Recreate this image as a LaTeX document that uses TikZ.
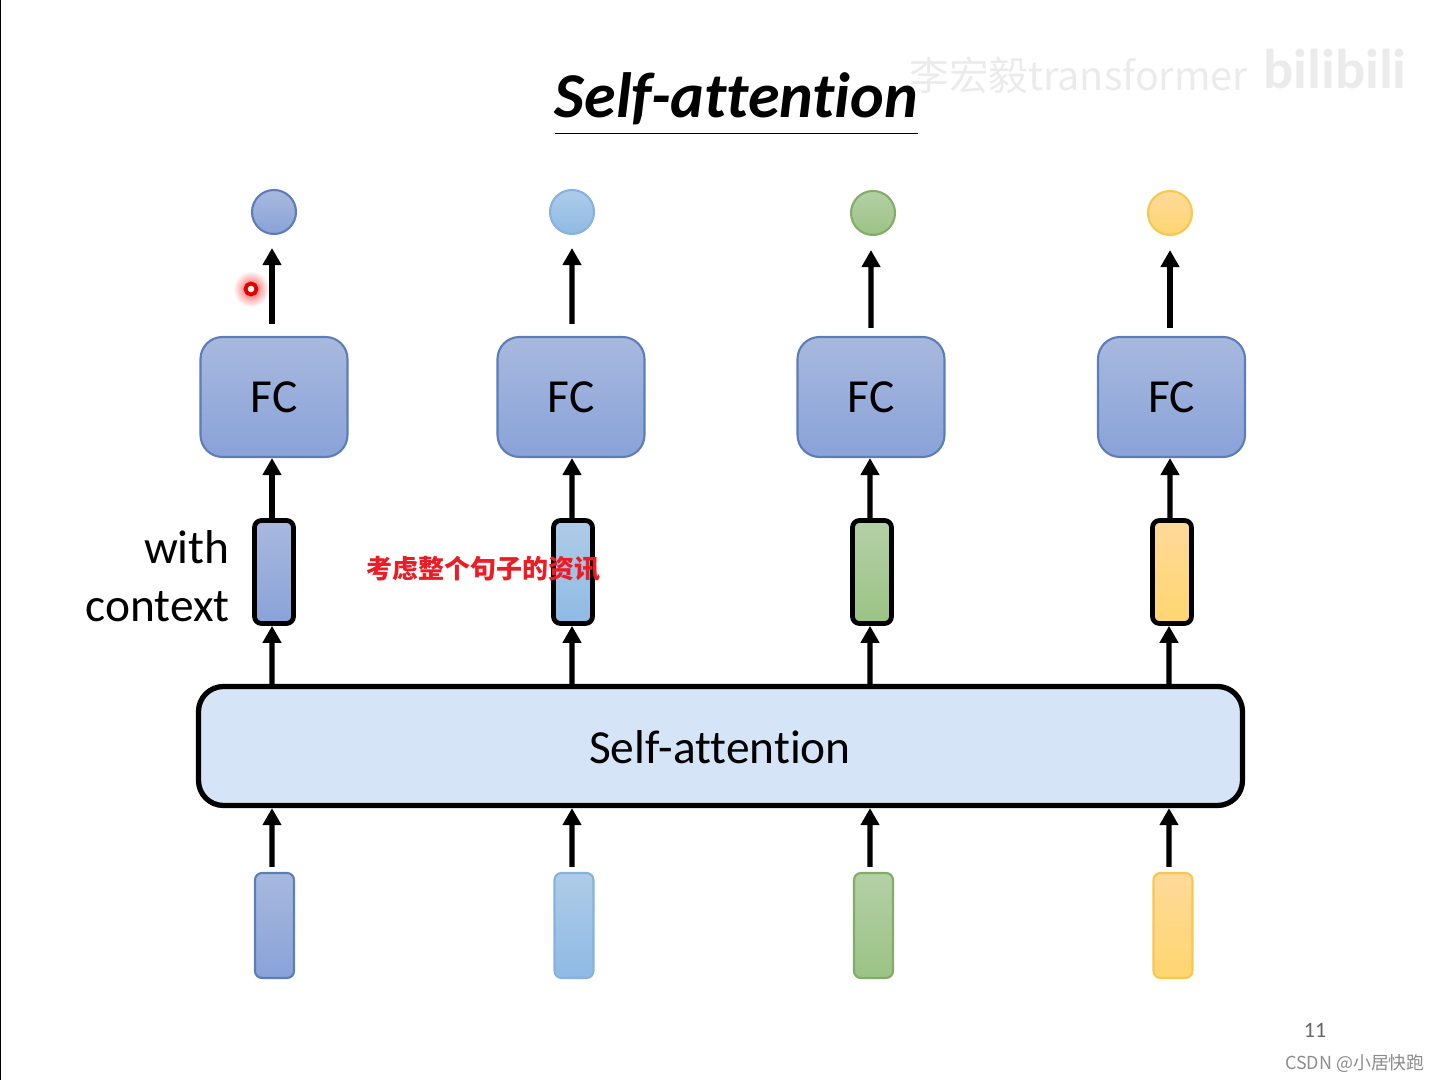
\documentclass[tikz,border=0pt]{standalone}
\usepackage{fontspec}
\setmainfont[Ligatures=NoCommon]{Carlito}
\newfontfamily\cjkfont{Noto Sans CJK SC}
\usetikzlibrary{arrows.meta}
\definecolor{indigotop}{RGB}{168,185,222}
\definecolor{indigobot}{RGB}{137,162,216}
\definecolor{indigoedge}{RGB}{92,125,184}
\definecolor{skytop}{RGB}{174,204,232}
\definecolor{skybot}{RGB}{143,186,228}
\definecolor{skyedge}{RGB}{135,178,222}
\definecolor{greentop}{RGB}{180,208,166}
\definecolor{greenbot}{RGB}{155,195,133}
\definecolor{greenedge}{RGB}{130,172,104}
\definecolor{yellowtop}{RGB}{255,217,154}
\definecolor{yellowbot}{RGB}{255,214,112}
\definecolor{yellowedge}{RGB}{246,200,80}
\definecolor{attfill}{RGB}{213,229,247}
\definecolor{notered}{RGB}{237,28,36}
\tikzset{
  indigo/.style={top color=indigotop,bottom color=indigobot},
  sky/.style={top color=skytop,bottom color=skybot},
  leaf/.style={top color=greentop,bottom color=greenbot},
  amber/.style={top color=yellowtop,bottom color=yellowbot},
  outball/.style={circle,inner sep=0pt,line width=1.2pt,minimum size=0.88cm},
  fcbox/.style={draw=indigoedge,indigo,rounded corners=0.44cm,inner sep=0pt,line width=1.2pt,
    minimum width=2.94cm,minimum height=2.40cm,font=\fontsize{27}{32}\selectfont},
  ctxbar/.style={draw=black,rounded corners=0.14cm,inner sep=0pt,line width=2.7pt,
    minimum width=0.78cm,minimum height=2.06cm},
  inbar/.style={rounded corners=0.14cm,inner sep=0pt,line width=1.2pt,
    minimum width=0.78cm,minimum height=2.10cm},
  upline/.style={line width=3pt,-{Triangle[length=0.34cm,width=0.36cm]}}
}
\begin{document}
\begin{tikzpicture}[line join=round]
  \useasboundingbox (0,0) rectangle (28.78,21.60);
  \draw[line width=0.8pt] (0.01,0) -- (0.01,21.60);

  \node[text=black!8,font=\cjkfont\fontsize{22.5}{27}\selectfont] (mark) at (21.58,20.10) {李宏毅transformer};
  \node[text=black!8,font=\fontsize{32}{36}\selectfont\bfseries] (bili) at (26.70,20.22) {bilibili};

  \node[font=\fontsize{36.4}{44}\selectfont\bfseries\itshape] (title) at (14.73,19.62) {Self-attention};
  \draw[line width=0.8pt] (11.10,18.93) -- (18.36,18.93);

  \node[outball,draw=indigoedge,indigo] (out1) at (5.48,17.36) {};
  \node[outball,draw=skyedge,sky] (out2) at (11.44,17.36) {};
  \node[outball,draw=greenedge,leaf] (out3) at (17.46,17.34) {};
  \node[outball,draw=yellowedge,amber] (out4) at (23.40,17.34) {};

  \node[fcbox] (fc1) at (5.48,13.66) {FC};
  \node[fcbox] (fc2) at (11.42,13.66) {FC};
  \node[fcbox] (fc3) at (17.42,13.66) {FC};
  \node[fcbox] (fc4) at (23.43,13.66) {FC};

  \node[ctxbar,indigo] (ctx1) at (5.48,10.16) {};
  \node[ctxbar,sky] (ctx2) at (11.46,10.16) {};
  \node[ctxbar,leaf] (ctx3) at (17.44,10.16) {};
  \node[ctxbar,amber] (ctx4) at (23.44,10.16) {};

  \node[draw=black,fill=attfill,rounded corners=0.50cm,inner sep=0pt,line width=3pt,
    minimum width=20.88cm,minimum height=2.38cm] (att) at (14.41,6.68) {};
  \node[font=\fontsize{27}{32}\selectfont] (attlabel) at (14.40,6.66) {Self-attention};

  \node[inbar,draw=indigoedge,indigo] (in1) at (5.49,3.09) {};
  \node[inbar,draw=skyedge,sky] (in2) at (11.48,3.09) {};
  \node[inbar,draw=greenedge,leaf] (in3) at (17.47,3.09) {};
  \node[inbar,draw=yellowedge,amber] (in4) at (23.46,3.09) {};

  \draw[upline,shorten <=0.24cm,shorten >=0.26cm] ([xshift=-0.04cm]fc1.north) -- ([xshift=-0.04cm]out1.south);
  \draw[upline,shorten <=0.24cm,shorten >=0.26cm] ([xshift=0.02cm]fc2.north) -- (out2.south);
  \draw[upline,shorten <=0.16cm,shorten >=0.28cm] ([xshift=0.00cm]fc3.north) -- ([xshift=-0.04cm]out3.south);
  \draw[upline,shorten <=0.16cm,shorten >=0.28cm] ([xshift=-0.03cm]fc4.north) -- (out4.south);

  \draw[upline,shorten >=0.00cm] ([xshift=-0.04cm]ctx1.north) -- ([xshift=-0.04cm]fc1.south);
  \draw[upline,shorten >=0.00cm] ([xshift=-0.02cm]ctx2.north) -- ([xshift=0.02cm]fc2.south);
  \draw[upline,shorten >=0.00cm] ([xshift=-0.04cm]ctx3.north) -- ([xshift=-0.02cm]fc3.south);
  \draw[upline,shorten >=0.00cm] ([xshift=-0.04cm]ctx4.north) -- ([xshift=-0.03cm]fc4.south);

  \draw[upline,shorten >=0.00cm] ([xshift=-8.97cm]att.north) -- ([xshift=-0.04cm]ctx1.south);
  \draw[upline,shorten >=0.00cm] ([xshift=-2.97cm]att.north) -- ([xshift=-0.02cm]ctx2.south);
  \draw[upline,shorten >=0.00cm] ([xshift=2.99cm]att.north) -- ([xshift=-0.04cm]ctx3.south);
  \draw[upline,shorten >=0.00cm] ([xshift=8.97cm]att.north) -- ([xshift=-0.06cm]ctx4.south);

  \draw[upline,shorten <=0.10cm,shorten >=0.00cm] ([xshift=-0.05cm]in1.north) -- ([xshift=-8.97cm]att.south);
  \draw[upline,shorten <=0.10cm,shorten >=0.00cm] ([xshift=-0.04cm]in2.north) -- ([xshift=-2.97cm]att.south);
  \draw[upline,shorten <=0.10cm,shorten >=0.00cm] ([xshift=-0.07cm]in3.north) -- ([xshift=2.99cm]att.south);
  \draw[upline,shorten <=0.10cm,shorten >=0.00cm] ([xshift=-0.08cm]in4.north) -- ([xshift=8.97cm]att.south);

  \node[anchor=east,inner sep=0pt,font=\fontsize{27}{32}\selectfont] (withlabel) at (4.60,10.66) {with};
  \node[anchor=east,inner sep=0pt,font=\fontsize{27}{32}\selectfont] (contextlabel) at (4.60,9.46) {context};

  \node[text=notered,font=\cjkfont\bfseries\fontsize{14.8}{18}\selectfont,inner sep=0pt] (note) at (9.67,10.22) {考虑整个句子的资讯};

  \coordinate (cursor) at (5.02,15.82);
  \shade[inner color=red!70,outer color=white] (cursor) circle (0.36);
  \draw[red!90!black,line width=2.2pt,fill=white] (cursor) circle (0.11);

  \node[text=black!60,font=\fontsize{12.5}{14}\selectfont] (pageno) at (26.30,0.99) {11};
  \node[text=black!45,font=\cjkfont\fontsize{10.2}{13}\selectfont,inner sep=0pt] (csdn) at (27.10,0.33) {CSDN @小居快跑};
\end{tikzpicture}
\end{document}
